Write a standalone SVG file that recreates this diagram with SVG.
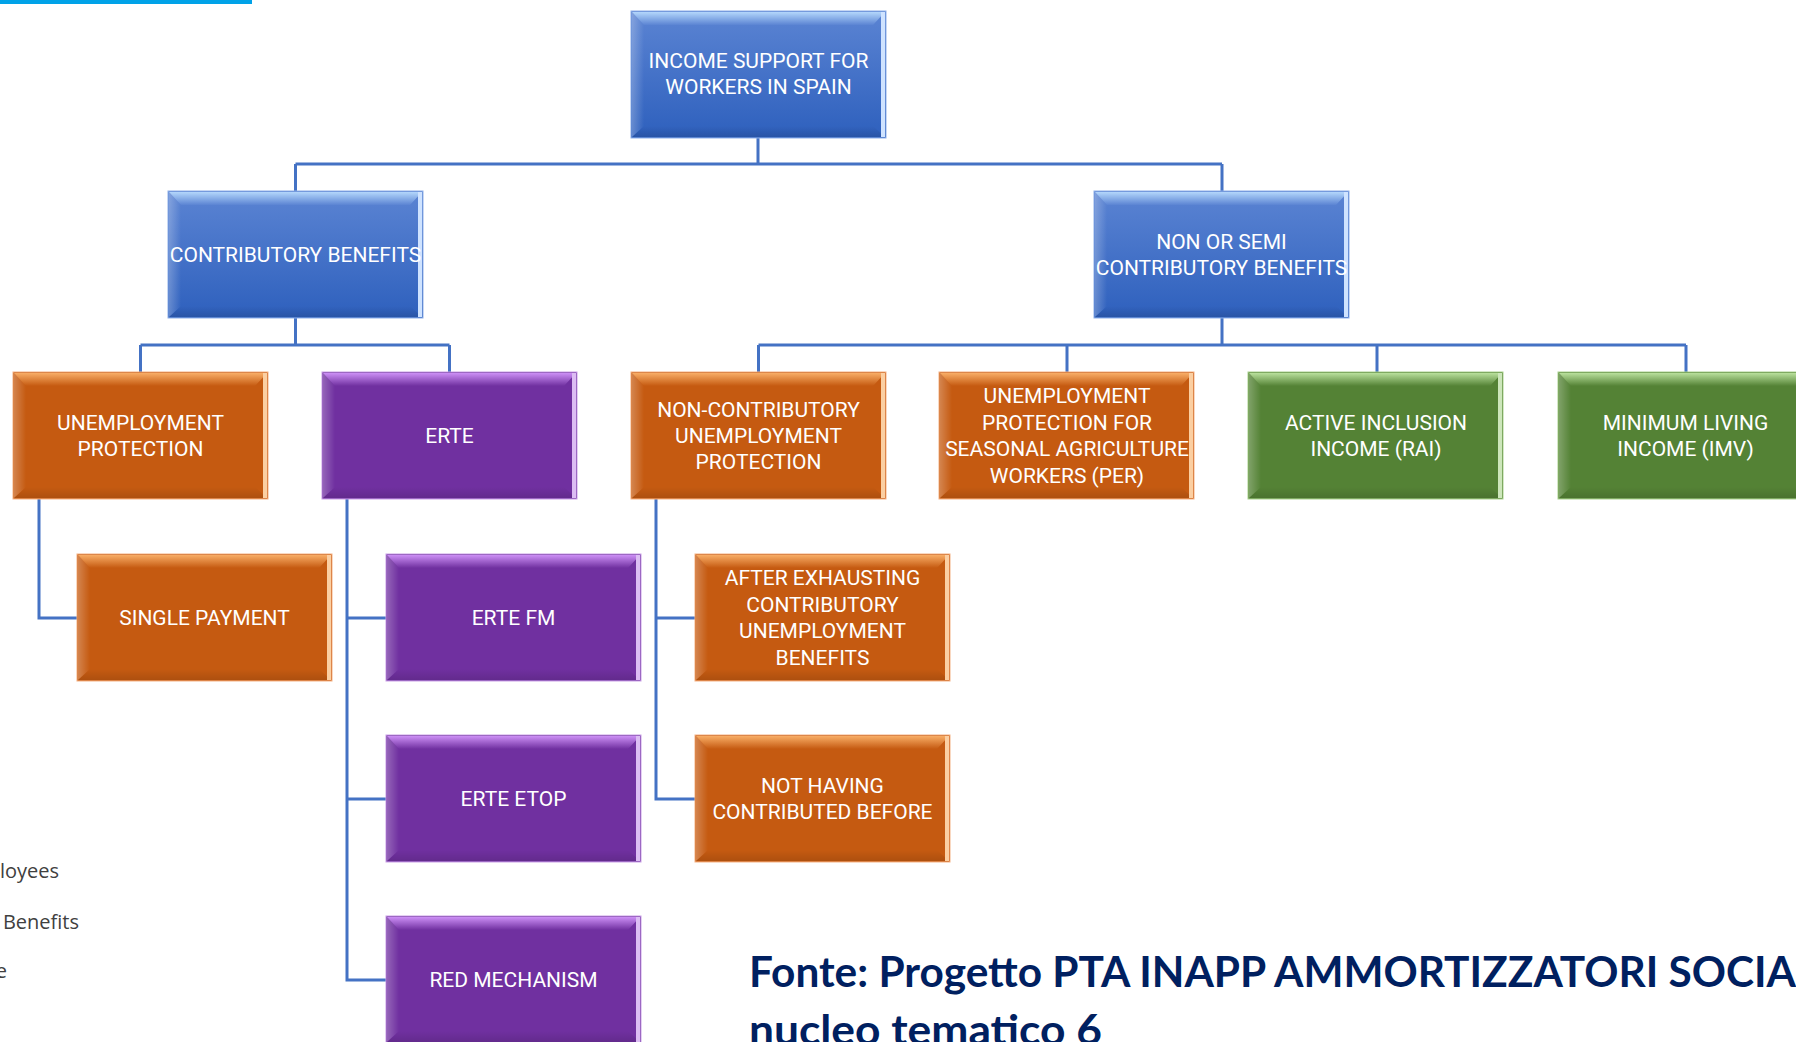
<svg xmlns="http://www.w3.org/2000/svg" xmlns:xlink="http://www.w3.org/1999/xlink" width="1796" height="1042" viewBox="0 0 1796 1042">
<defs>
<style>
.lbl{font-family:Roboto,"Liberation Sans",sans-serif;font-size:21px;fill:#ffffff;text-anchor:middle}
.conn{fill:none;stroke:#4472c4;stroke-width:3}
.side{font-family:"Open Sans","Liberation Sans",sans-serif;font-size:20px;fill:#404040;text-anchor:end}
.src{font-family:Lato,"Liberation Sans",sans-serif;font-weight:700;font-size:42px;fill:#002060}
</style>
<linearGradient id="gBlue" x1="0" y1="0" x2="0" y2="1"><stop offset="0" stop-color="#5b84d3"/><stop offset="1" stop-color="#2e60bd"/></linearGradient>
<linearGradient id="gBlueT" x1="0" y1="0" x2="0" y2="1"><stop offset="0" stop-color="#b3d6fb"/><stop offset="1" stop-color="#5b84d3"/></linearGradient>
<linearGradient id="gOr" x1="0" y1="0" x2="0" y2="1"><stop offset="0" stop-color="#c55a11"/><stop offset="1" stop-color="#c55a11"/></linearGradient>
<linearGradient id="gOrT" x1="0" y1="0" x2="0" y2="1"><stop offset="0" stop-color="#f8ad66"/><stop offset="1" stop-color="#c55a11"/></linearGradient>
<linearGradient id="gPu" x1="0" y1="0" x2="0" y2="1"><stop offset="0" stop-color="#7030a0"/><stop offset="1" stop-color="#7030a0"/></linearGradient>
<linearGradient id="gPuT" x1="0" y1="0" x2="0" y2="1"><stop offset="0" stop-color="#cc8ff5"/><stop offset="1" stop-color="#7030a0"/></linearGradient>
<linearGradient id="gGr" x1="0" y1="0" x2="0" y2="1"><stop offset="0" stop-color="#548235"/><stop offset="1" stop-color="#548235"/></linearGradient>
<linearGradient id="gGrT" x1="0" y1="0" x2="0" y2="1"><stop offset="0" stop-color="#b9e09c"/><stop offset="1" stop-color="#548235"/></linearGradient>
<linearGradient id="gL" x1="0" y1="0" x2="1" y2="0"><stop offset="0" stop-color="#ffffff" stop-opacity="0.25"/><stop offset="1" stop-color="#ffffff" stop-opacity="0"/></linearGradient>
<linearGradient id="gB" x1="0" y1="0" x2="0" y2="1"><stop offset="0" stop-color="#000000" stop-opacity="0"/><stop offset="1" stop-color="#000000" stop-opacity="0.12"/></linearGradient>
<g id="bx-blue">
<rect x="0" y="0" width="255" height="127" fill="url(#gBlue)" stroke="#8fb0e8" stroke-width="1"/>
<polygon points="1,1 254,1 242,14 13,14" fill="url(#gBlueT)"/>
<polygon points="1,1 13,14 13,115 1,126" fill="url(#gL)"/>
<polygon points="1,126 13,115 242,115 254,126" fill="url(#gB)"/>
<rect x="250" y="1" width="4" height="125" fill="#cfe3ff"/>
</g>
<g id="bx-or">
<rect x="0" y="0" width="255" height="127" fill="#c55a11" stroke="#f4b183" stroke-width="1"/>
<polygon points="1,1 254,1 242,14 13,14" fill="url(#gOrT)"/>
<polygon points="1,1 13,14 13,115 1,126" fill="url(#gL)"/>
<polygon points="1,126 13,115 242,115 254,126" fill="url(#gB)"/>
<rect x="250" y="1" width="4" height="125" fill="#fbcfa2"/>
</g>
<g id="bx-pu">
<rect x="0" y="0" width="255" height="127" fill="#7030a0" stroke="#c9a0e6" stroke-width="1"/>
<polygon points="1,1 254,1 242,14 13,14" fill="url(#gPuT)"/>
<polygon points="1,1 13,14 13,115 1,126" fill="url(#gL)"/>
<polygon points="1,126 13,115 242,115 254,126" fill="url(#gB)"/>
<rect x="250" y="1" width="4" height="125" fill="#dcbdf3"/>
</g>
<g id="bx-gr">
<rect x="0" y="0" width="255" height="127" fill="#548235" stroke="#a9d18e" stroke-width="1"/>
<polygon points="1,1 254,1 242,14 13,14" fill="url(#gGrT)"/>
<polygon points="1,1 13,14 13,115 1,126" fill="url(#gL)"/>
<polygon points="1,126 13,115 242,115 254,126" fill="url(#gB)"/>
<rect x="250" y="1" width="4" height="125" fill="#cde6bb"/>
</g>
</defs>
<rect x="0" y="0" width="1796" height="1042" fill="#ffffff"/>
<rect x="0" y="0" width="252" height="4" fill="#00a2e8"/>

<g id="connectors">
<path class="conn" d="M758,137 V164 M295.5,164 H1222 M295.5,164 V191 M1222,164 V191"/>
<path class="conn" d="M295.5,318 V345 M140.5,345 H449.5 M140.5,345 V372 M449.5,345 V372"/>
<path class="conn" d="M1222,318 V345 M758.5,345 H1686 M758.5,345 V372 M1067,345 V372 M1377,345 V372 M1686,345 V372"/>
<path class="conn" d="M39,499 V618 H77"/>
<path class="conn" d="M347,499 V980 H386 M347,618 H386 M347,799 H386"/>
<path class="conn" d="M656,499 V799 H695 M656,618 H695"/>
</g>

<g id="n-top" transform="translate(631,11)"><use href="#bx-blue"/><text class="lbl"><tspan x="127.5" y="56.5">INCOME SUPPORT FOR</tspan><tspan x="127.5" y="83">WORKERS IN SPAIN</tspan></text></g>
<g id="n-contrib" transform="translate(168,191)"><use href="#bx-blue"/><text class="lbl"><tspan x="127.5" y="71">CONTRIBUTORY BENEFITS</tspan></text></g>
<g id="n-nonsemi" transform="translate(1094,191)"><use href="#bx-blue"/><text class="lbl"><tspan x="127.5" y="57.8">NON OR SEMI</tspan><tspan x="127.5" y="84.2">CONTRIBUTORY BENEFITS</tspan></text></g>

<g id="n-unemp" transform="translate(13,372)"><use href="#bx-or"/><text class="lbl"><tspan x="127.5" y="57.8">UNEMPLOYMENT</tspan><tspan x="127.5" y="84.2">PROTECTION</tspan></text></g>
<g id="n-erte" transform="translate(322,372)"><use href="#bx-pu"/><text class="lbl"><tspan x="127.5" y="71">ERTE</tspan></text></g>
<g id="n-noncontrib" transform="translate(631,372)"><use href="#bx-or"/><text class="lbl"><tspan x="127.5" y="44.6">NON-CONTRIBUTORY</tspan><tspan x="127.5" y="71">UNEMPLOYMENT</tspan><tspan x="127.5" y="97.4">PROTECTION</tspan></text></g>
<g id="n-per" transform="translate(939,372)"><use href="#bx-or"/><text class="lbl"><tspan x="128" y="31.4">UNEMPLOYMENT</tspan><tspan x="128" y="57.8">PROTECTION FOR</tspan><tspan x="128" y="84.2">SEASONAL AGRICULTURE</tspan><tspan x="128" y="110.6">WORKERS (PER)</tspan></text></g>
<g id="n-rai" transform="translate(1248,372)"><use href="#bx-gr"/><text class="lbl"><tspan x="128" y="57.8">ACTIVE INCLUSION</tspan><tspan x="128" y="84.2">INCOME (RAI)</tspan></text></g>
<g id="n-imv" transform="translate(1558,372)"><use href="#bx-gr"/><text class="lbl"><tspan x="127.5" y="57.8">MINIMUM LIVING</tspan><tspan x="127.5" y="84.2">INCOME (IMV)</tspan></text></g>

<g id="n-single" transform="translate(77,554)"><use href="#bx-or"/><text class="lbl"><tspan x="127.5" y="71">SINGLE PAYMENT</tspan></text></g>
<g id="n-ertefm" transform="translate(386,554)"><use href="#bx-pu"/><text class="lbl"><tspan x="127.5" y="71">ERTE FM</tspan></text></g>
<g id="n-after" transform="translate(695,554)"><use href="#bx-or"/><text class="lbl"><tspan x="127.5" y="31.4">AFTER EXHAUSTING</tspan><tspan x="127.5" y="57.8">CONTRIBUTORY</tspan><tspan x="127.5" y="84.2">UNEMPLOYMENT</tspan><tspan x="127.5" y="110.6">BENEFITS</tspan></text></g>

<g id="n-etop" transform="translate(386,735)"><use href="#bx-pu"/><text class="lbl"><tspan x="127.5" y="71">ERTE ETOP</tspan></text></g>
<g id="n-nothaving" transform="translate(695,735)"><use href="#bx-or"/><text class="lbl"><tspan x="127.5" y="57.8">NOT HAVING</tspan><tspan x="127.5" y="84.2">CONTRIBUTED BEFORE</tspan></text></g>

<g id="n-red" transform="translate(386,916)"><use href="#bx-pu"/><text class="lbl"><tspan x="127.5" y="71">RED MECHANISM</tspan></text></g>

<g id="side-text">
<text class="side" x="59" y="878">loyees</text>
<text class="side" x="79" y="929">Benefits</text>
<text class="side" x="7" y="978">e</text>
</g>

<g id="source">
<text class="src" x="749" y="987" textLength="1047" lengthAdjust="spacingAndGlyphs">Fonte: Progetto PTA INAPP AMMORTIZZATORI SOCIA</text>
<text class="src" x="749" y="1045" textLength="353" lengthAdjust="spacingAndGlyphs">nucleo tematico 6</text>
</g>
</svg>
